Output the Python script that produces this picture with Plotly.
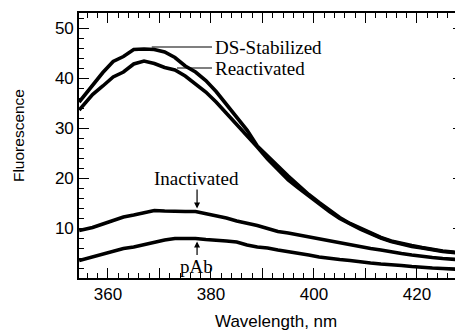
import plotly.graph_objects as go

wavelength = [354.4, 357, 359, 361, 363, 365, 367, 369, 371, 373, 375, 377, 379, 381, 383,
              385, 387, 389, 391, 393, 395, 397, 399, 401, 403, 405, 407, 409, 411, 413,
              415, 417, 419, 421, 423, 425, 427, 429]

ds_stabilized = [35.2, 38.7, 41.1, 43.3, 44.3, 45.7, 45.8, 45.7, 45.2, 44.1, 42.4, 41.2, 39.5,
                 37.3, 34.8, 32.3, 29.6, 26.4, 24.3, 22.4, 20.4, 18.5, 16.7, 15.1, 13.5, 12.1,
                 10.9, 9.9, 9.0, 8.1, 7.4, 6.9, 6.5, 6.1, 5.7, 5.4, 5.2, 5.0]

reactivated = [33.6, 36.7, 38.4, 40.2, 41.2, 42.8, 43.4, 42.9, 42.1, 41.6, 40.4, 38.9, 37.2,
               35.2, 33.0, 30.8, 28.5, 26.2, 23.8, 21.7, 19.6, 18.0, 16.4, 14.8, 13.3, 11.9,
               10.8, 9.8, 8.9, 8.0, 7.3, 6.8, 6.3, 6.0, 5.6, 5.3, 5.1, 4.9]

inactivated = [9.5, 10.1, 10.8, 11.5, 12.2, 12.6, 13.0, 13.5, 13.4, 13.3, 13.3, 13.3, 12.9,
               12.5, 12.0, 11.4, 11.0, 10.5, 9.9, 9.3, 9.0, 8.6, 8.2, 7.8, 7.4, 7.1, 6.7,
               6.3, 5.9, 5.6, 5.2, 4.9, 4.6, 4.3, 4.1, 3.9, 3.7, 3.6]

pab = [3.5, 4.2, 4.8, 5.4, 5.9, 6.2, 6.7, 7.2, 7.6, 7.9, 7.9, 7.9, 7.7, 7.6, 7.4, 7.2, 6.6,
       6.2, 6.0, 5.6, 5.3, 5.0, 4.6, 4.2, 3.9, 3.7, 3.5, 3.2, 3.0, 2.8, 2.7, 2.5, 2.3, 2.1,
       2.0, 1.9, 1.8, 1.7]

x_tickvals = [360, 370, 380, 390, 400, 410, 420]
x_ticktext = ["360", "", "380", "", "400", "", "420"]
y_tickvals = [10, 20, 30, 40, 50]
y_ticktext = ["10", "20", "30", "40", "50"]

series = [("DS-Stabilized", ds_stabilized), ("Reactivated", reactivated),
          ("Inactivated", inactivated), ("pAb", pab)]

fig = go.Figure()
for name, vals in series:
    fig.add_trace(go.Scatter(x=wavelength, y=vals, mode="lines", name=name,
                             line=dict(color="black", width=3.6), showlegend=False))

serif = dict(family="Liberation Serif, Times New Roman, serif", size=19, color="black")
sans = "Liberation Sans, Arial, Helvetica, sans-serif"

annotations = [
    dict(x=380.3, y=46.2, text="DS-Stabilized", xanchor="left", yanchor="middle",
         showarrow=False, font=serif),
    dict(x=380.3, y=42.0, text="Reactivated", xanchor="left", yanchor="middle",
         showarrow=False, font=serif),
    dict(x=377.2, y=20.0, text="Inactivated", xanchor="center", yanchor="middle",
         showarrow=False, font=serif),
    dict(x=377.2, y=2.3, text="pAb", xanchor="center", yanchor="middle",
         showarrow=False, font=serif),
    # arrows
    dict(x=377.3, y=13.9, ax=377.3, ay=18.0, axref="x", ayref="y", text="",
         showarrow=True, arrowhead=2, arrowsize=1, arrowwidth=1.2, arrowcolor="black"),
    dict(x=377.3, y=7.3, ax=377.3, ay=4.3, axref="x", ayref="y", text="",
         showarrow=True, arrowhead=2, arrowsize=1, arrowwidth=1.2, arrowcolor="black"),
    # axis titles
    dict(x=0.513, y=-0.163, xref="paper", yref="paper", text="Wavelength, nm",
         showarrow=False, xanchor="center", yanchor="middle",
         font=dict(family=sans, size=17, color="black")),
    dict(x=-0.156, y=0.536, xref="paper", yref="paper", text="Fluorescence",
         showarrow=False, xanchor="center", yanchor="middle", textangle=-90,
         font=dict(family=sans, size=15.5, color="black")),
]

shapes = [
    dict(type="line", xref="x", yref="y", x0=368.5, x1=380.2, y0=46.2, y1=46.2,
         line=dict(color="black", width=1.2)),
    dict(type="line", xref="x", yref="y", x0=373.4, x1=380.2, y0=42.0, y1=42.0,
         line=dict(color="black", width=1.2)),
]

# the page body adds an 8px margin, so the figure is sized/margined to compensate
fig.update_layout(
    width=455, height=323,
    margin=dict(l=71, r=0, t=5, b=53, autoexpand=False),
    plot_bgcolor="white", paper_bgcolor="white",
    annotations=annotations, shapes=shapes,
    font=dict(family=sans, size=17, color="black"),
)

fig.update_xaxes(range=[354.37, 428.95], tickmode="array", tickvals=x_tickvals,
                 ticktext=x_ticktext, ticks="inside", ticklen=10, tickwidth=1.3,
                 tickcolor="black", showline=True, linecolor="black", linewidth=1.6,
                 mirror="ticks", showgrid=False, zeroline=False,
                 tickfont=dict(family=sans, size=17, color="black"),
                 minor=dict(dtick=2, tick0=360, ticks="inside", ticklen=5, tickwidth=1.1,
                            tickcolor="black", showgrid=False))
fig.update_yaxes(range=[0, 53], tickmode="array", tickvals=y_tickvals,
                 ticktext=y_ticktext, ticks="inside", ticklen=10, tickwidth=1.3,
                 tickcolor="black", showline=True, linecolor="black", linewidth=1.6,
                 mirror="ticks", showgrid=False, zeroline=False,
                 tickfont=dict(family=sans, size=17, color="black"),
                 minor=dict(dtick=2, tick0=0, ticks="inside", ticklen=5, tickwidth=1.1,
                            tickcolor="black", showgrid=False))

fig.write_html("out.html")
